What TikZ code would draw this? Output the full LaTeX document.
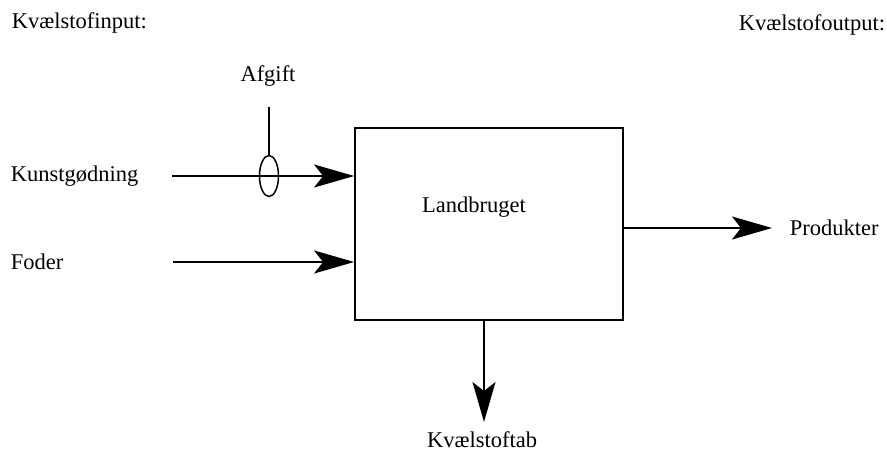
\documentclass[tikz,border=0pt]{standalone}
\usepackage{fontspec}
\setmainfont{Liberation Serif}
\usetikzlibrary{arrows.meta, shapes.geometric, positioning}

\tikzset{
  label text/.style={inner sep=0pt, font=\fontsize{22.5}{27}\selectfont},
  flow/.style={->, line width=1.8pt}
}

\begin{document}
\begin{tikzpicture} [x=1pt, y=-1pt, line width=1.8pt, >={Stealth[length=40pt, width=23pt, inset=9pt]}]

\useasboundingbox (0,0) rectangle (887,453);

\node[draw, minimum width=268pt, minimum height=192pt, inner sep=0pt] (landbruget) at (489,224) {};
\node[label text]	(landbruget_text)	at (474,207)	{Landbruget};

\node[label text, anchor=west]	(kvaelstofinput)	at (11,23)	{Kvælstofinput:};
\node[label text, anchor=east]	(kvaelstofoutput)	at (886,25)	{Kvælstofoutput:};

\node[label text, anchor=west]	(kunstgodning)	at (10,176)	{Kunstgødning};
\node[label text, anchor=west]	(foder)		at (10,262)	{Foder};
\node[label text]			(afgift)		at (268,76)	{Afgift};
\node[label text, anchor=west]	(produkter)	at (789,228)	{Produkter};
\node[label text]			(kvaelstoftab)	at (482,440)	{Kvælstoftab};

\node[draw, ellipse, line width=1.5pt, minimum width=19pt, minimum height=41pt, inner sep=0pt] (afgift_ring) at (269,176) {};

\coordinate (kunst_start)	at (172,176);
\coordinate (foder_start)	at (173,262);
\coordinate (afgift_start)	at (269,107);
\coordinate (produkter_end)	at (772,228);
\coordinate (tab_end)		at (484,422);

\draw[flow]	(kunst_start)	-- (landbruget.west |- kunst_start);
\draw[flow]	(foder_start)	-- (landbruget.west |- foder_start);
\draw[line width=1.5pt]	(afgift_start)	-- (afgift_ring.north);
\draw[flow]	(landbruget.east |- produkter_end)	-- (produkter_end);
\draw[flow]	(landbruget.south -| tab_end)	-- (tab_end);

\end{tikzpicture}
\end{document}
